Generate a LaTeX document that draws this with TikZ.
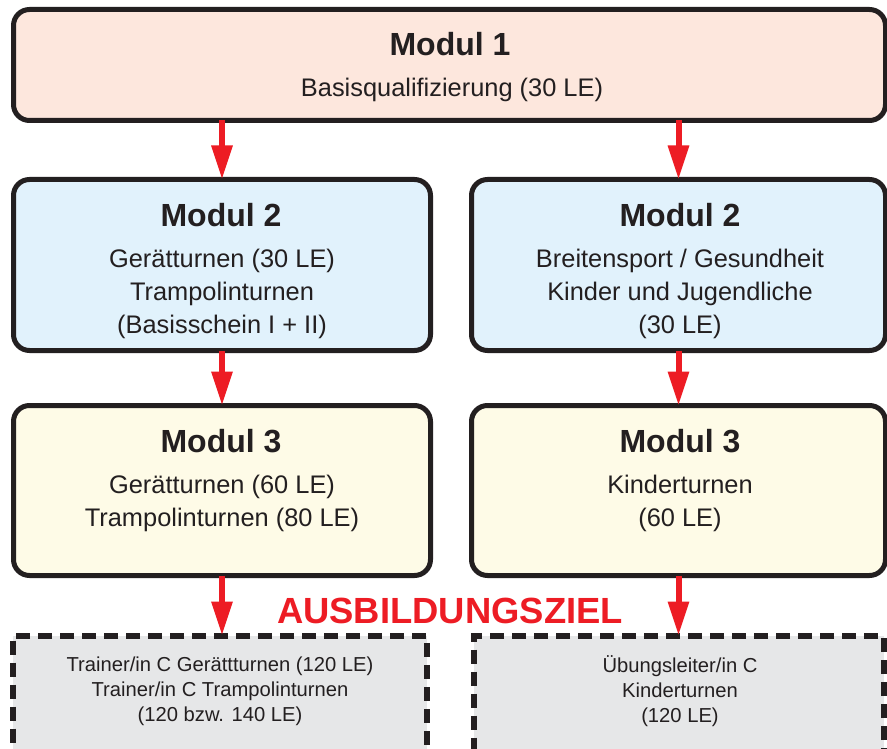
\documentclass[tikz,border=0pt]{standalone}
\usepackage{fontspec}
\setmainfont{Liberation Sans}
\usetikzlibrary{arrows.meta}
\definecolor{strokec}{HTML}{231F20}
\definecolor{redc}{HTML}{ED1C24}
\definecolor{mafill}{HTML}{FDE7DD}
\definecolor{mbfill}{HTML}{E1F2FC}
\definecolor{mcfill}{HTML}{FEFBE7}
\definecolor{goalfill}{HTML}{E6E7E8}
\begin{document}
\begin{tikzpicture}[x=1pt,y=-1pt,
  box/.style={draw=strokec, line width=5pt, rounded corners=16pt, inner sep=0pt, outer sep=0pt},
  goal/.style={draw=strokec, fill=goalfill, line width=6pt, dash pattern=on 14pt off 8pt, inner sep=0pt, outer sep=0pt},
  title/.style={font=\fontsize{32}{38}\selectfont\bfseries, text=strokec, inner sep=0pt, anchor=base},
  body/.style={font=\fontsize{25.4}{33}\selectfont, text=strokec, align=center, inner sep=0pt},
  small/.style={font=\fontsize{20.2}{25}\selectfont, text=strokec, align=center, inner sep=0pt},
  arr/.style={draw=redc, line width=6pt, -{Triangle[width=20pt,length=34pt]}}
]
\clip (0,0) rectangle (887,749);
\fill[white] (0,0) rectangle (887,749);
% boxes
\node[box, fill=mafill, minimum width=872pt, minimum height=111pt] (m1) at (449.5,65) {};
\node[box, fill=mbfill, minimum width=417pt, minimum height=171pt] (m2l) at (222,265) {};
\node[box, fill=mbfill, minimum width=414pt, minimum height=171pt] (m2r) at (678.5,265) {};
\node[box, fill=mcfill, minimum width=417pt, minimum height=170pt] (m3l) at (222,490.5) {};
\node[box, fill=mcfill, minimum width=414pt, minimum height=170pt] (m3r) at (678.5,490.5) {};
\node[goal, minimum width=414pt, minimum height=289pt] (g1) at (220,780) {};
\node[goal, minimum width=409.5pt, minimum height=289pt] (g2) at (678.75,780) {};
% arrows
\draw[arr] (m1.south -| m2l.north) -- (m2l.north);
\draw[arr] (m1.south -| m2r.north) -- (m2r.north);
\draw[arr] (m2l.south) -- (m3l.north);
\draw[arr] (m2r.south) -- (m3r.north);
\draw[arr] (m3l.south) -- (m3l.south |- g1.north);
\draw[arr] (m3r.south) -- (m3r.south |- g2.north);
% texts
\node[title] (t1) at (450,56) {Modul 1};
\node[body] (t1b) at (452,89.5) {Basisqualifizierung (30 LE)};
\node[title] (t2l) at (221,226) {Modul 2};
\node[body] (t2lb) at (222,293.5) {Gerätturnen (30 LE)\\Trampolinturnen\\(Basisschein I + II)};
\node[title] (t2r) at (680,226) {Modul 2};
\node[body] (t2rb) at (680,293.5) {Breitensport / Gesundheit\\Kinder und Jugendliche\\(30 LE)};
\node[title] (t3l) at (221,452) {Modul 3};
\node[body] (t3lb) at (222,503) {Gerätturnen (60 LE)\\Trampolinturnen (80 LE)};
\node[title] (t3r) at (680,452) {Modul 3};
\node[body] (t3rb) at (680,503) {Kinderturnen\\(60 LE)};
\node[font=\fontsize{36.4}{40}\selectfont\bfseries, text=redc, inner sep=0pt, anchor=base] (ziel) at (450,623) {AUSBILDUNGSZIEL};
\node[small] (g1t) at (220,691) {Trainer/in C Gerättturnen (120 LE)\\Trainer/in C Trampolinturnen\\(120 bzw. 140 LE)};
\node[small] (g2t) at (680,691) {Übungsleiter/in C\\Kinderturnen\\(120 LE)};
\end{tikzpicture}
\end{document}
